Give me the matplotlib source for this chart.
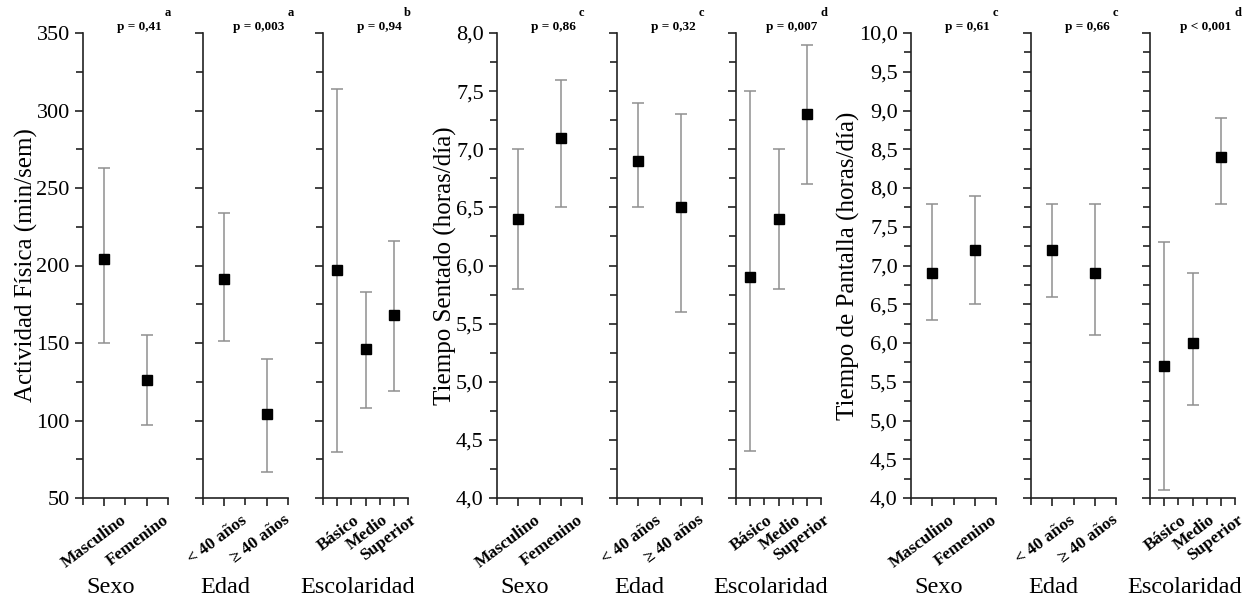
import numpy as np
import matplotlib.pyplot as plt
from matplotlib.ticker import MultipleLocator, FuncFormatter
import matplotlib.transforms as mtrans

plt.rcParams['font.family'] = ['Liberation Serif', 'DejaVu Serif']

groups = ['Sexo', 'Edad', 'Escolaridad']
cats = [['Masculino', 'Femenino'], ['< 40 años', '≥ 40 años'], ['Básico', 'Medio', 'Superior']]

# actividad fisica (min/sem)
act_mean = [[204, 126], [191, 104], [197, 146, 168]]
act_low = [[150, 97], [151, 67], [80, 108, 119]]
act_high = [[263, 155], [234, 140], [314, 183, 216]]
act_p = ['p = 0,41', 'p = 0,003', 'p = 0,94']
act_sup = ['a', 'a', 'b']

# tiempo sentado (horas/dia)
sent_mean = [[6.4, 7.1], [6.9, 6.5], [5.9, 6.4, 7.3]]
sent_low = [[5.8, 6.5], [6.5, 5.6], [4.4, 5.8, 6.7]]
sent_high = [[7.0, 7.6], [7.4, 7.3], [7.5, 7.0, 7.9]]
sent_p = ['p = 0,86', 'p = 0,32', 'p = 0,007']
sent_sup = ['c', 'c', 'd']

# tiempo de pantalla (horas/dia)
pant_mean = [[6.9, 7.2], [7.2, 6.9], [5.7, 6.0, 8.4]]
pant_low = [[6.3, 6.5], [6.6, 6.1], [4.1, 5.2, 7.8]]
pant_high = [[7.8, 7.9], [7.8, 7.8], [7.3, 6.9, 8.9]]
pant_p = ['p = 0,61', 'p = 0,66', 'p < 0,001']
pant_sup = ['c', 'c', 'd']

measures = [
    ('Actividad Física (min/sem)', act_mean, act_low, act_high, act_p, act_sup, (50, 350), 50, 25, False),
    ('Tiempo Sentado (horas/día)', sent_mean, sent_low, sent_high, sent_p, sent_sup, (4, 8), 0.5, 0.25, True),
    ('Tiempo de Pantalla (horas/día)', pant_mean, pant_low, pant_high, pant_p, pant_sup, (4, 10), 0.5, 0.25, True),
]

W, H = 1254, 600
fig = plt.figure(figsize=(W / 100, H / 100), dpi=100)

lefts = [[83, 203, 323], [497, 617, 736], [911, 1031, 1150]]
panel_w = 85
top, bottom = 33, 498
spine_c = '#222222'
group_x = [0.33, 0.26, 0.41]

for m, (ylabel, mean, low, high, pvals, sups, ylim, major, minor, dec) in enumerate(measures):
    for g in range(3):
        ax = fig.add_axes([lefts[m][g] / W, 1 - bottom / H, panel_w / W, (bottom - top) / H])
        n = len(cats[g])
        x = np.arange(1, n + 1)
        mu = np.array(mean[g])
        err = [mu - np.array(low[g]), np.array(high[g]) - mu]
        ax.errorbar(x, mu, yerr=err, fmt='none', ecolor='#8f8f8f', elinewidth=1.1,
                    capsize=4, capthick=1.1, zorder=2)
        ax.plot(x, mu, 's', color='black', ms=7.5, zorder=3)

        ax.set_xlim(0.5, n + 0.5)
        ax.set_ylim(*ylim)
        ax.set_xticks(x)
        ax.set_xticks(np.arange(0.5, n + 1, 1), minor=True)
        ax.yaxis.set_major_locator(MultipleLocator(major))
        ax.yaxis.set_minor_locator(MultipleLocator(minor))
        for s in ['top', 'right']:
            ax.spines[s].set_visible(False)
        for s in ['left', 'bottom']:
            ax.spines[s].set_linewidth(1.2)
            ax.spines[s].set_color(spine_c)
        ax.tick_params(which='both', direction='out', color=spine_c, width=1.2)
        ax.tick_params(which='major', length=6)
        ax.tick_params(which='minor', length=5)

        off = mtrans.ScaledTranslation(16 / 100, -1 / 100, fig.dpi_scale_trans)
        ax.set_xticklabels(cats[g], rotation=37, ha='right', va='top',
                           rotation_mode='anchor', fontsize=12.5, fontweight='bold')
        for lab in ax.get_xticklabels():
            lab.set_transform(lab.get_transform() + off)

        if g == 0:
            if dec:
                ax.yaxis.set_major_formatter(FuncFormatter(lambda v, p: f'{v:.1f}'.replace('.', ',')))
            ax.tick_params(axis='y', labelsize=16)
            ax.set_ylabel(ylabel, fontsize=18, labelpad=-1)
        else:
            ax.tick_params(axis='y', labelleft=False)

        ax.text(group_x[g], -0.192, groups[g], transform=ax.transAxes, ha='center', va='center',
                fontsize=17.5)

        t = ax.text(0.66, 1.012, pvals[g], transform=ax.transAxes, ha='center', va='center',
                    fontsize=9.5, fontweight='bold')
        ax.annotate(sups[g], xy=(1, 1), xycoords=t, xytext=(2, 2), textcoords='offset points',
                    ha='left', va='bottom', fontsize=9, fontweight='bold')

fig.savefig('out.png', dpi=100)
